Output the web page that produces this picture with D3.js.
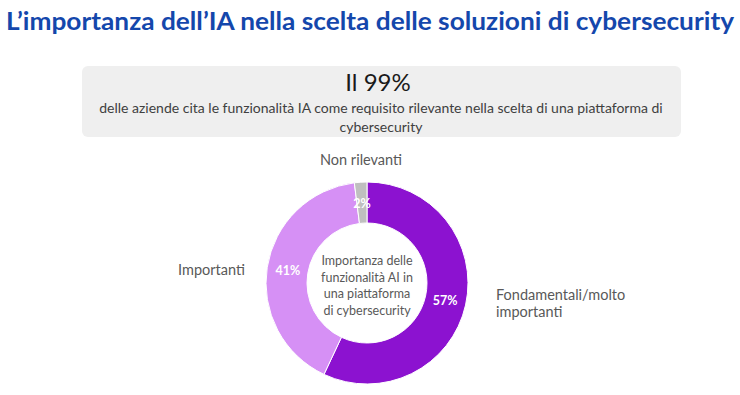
<!DOCTYPE html>
<html>
<head>
<meta charset="utf-8">
<script src="https://cdn.jsdelivr.net/npm/d3@7"></script>
<style>
  body { margin: 0; background: #fff; }
  svg { display: block; font-family: Lato, "Open Sans", sans-serif; }
</style>
</head>
<body>
<div id="chart"></div>
<script>
// Dati del grafico
const categories = ["Fondamentali/molto importanti", "Importanti", "Non rilevanti"];
const values = [57, 41, 2];
const colors = ["#8c12d0", "#d690f5", "#bfbfbf"];
const outerLabels = [["Fondamentali/molto", "importanti"], ["Importanti"], ["Non rilevanti"]];
const centerLines = ["Importanza delle", "funzionalità AI in", "una piattaforma", "di cybersecurity"];

const width = 740, height = 395;
const cx = 367, cy = 283;
const outerR = 101, innerR = 60;

const svg = d3.select("#chart")
    .append("svg")
    .attr("width", width)
    .attr("height", height);

// Titolo
svg.append("text")
    .attr("x", 6)
    .attr("y", 30)
    .attr("textLength", 728)
    .attr("lengthAdjust", "spacingAndGlyphs")
    .attr("font-size", 25)
    .attr("font-weight", "bold")
    .attr("fill", "#1447ac")
    .text("L’importanza dell’IA nella scelta delle soluzioni di cybersecurity");

// Riquadro grigio con il 99%
svg.append("rect")
    .attr("x", 82)
    .attr("y", 66)
    .attr("width", 599)
    .attr("height", 71)
    .attr("rx", 6)
    .attr("fill", "#efefef");

svg.append("text")
    .attr("x", 378)
    .attr("y", 91)
    .attr("text-anchor", "middle")
    .attr("font-size", 24)
    .attr("fill", "#1a1a1a")
    .text("Il 99%");

const boxLines = ["delle aziende cita le funzionalità IA come requisito rilevante nella scelta di una piattaforma di", "cybersecurity"];
svg.selectAll(".sub")
    .data(boxLines)
    .enter()
    .append("text")
    .attr("class", "sub")
    .attr("x", 381)
    .attr("y", (d, i) => 113 + i * 19)
    .attr("text-anchor", "middle")
    .attr("font-size", 14)
    .attr("fill", "#404040")
    .text(d => d);

// Ciambella
const data = categories.map((c, i) => ({ name: c, value: values[i], color: colors[i], label: outerLabels[i] }));
const pie = d3.pie().sort(null).value(d => d.value);
const arc = d3.arc().innerRadius(innerR).outerRadius(outerR);
const labelArc = d3.arc().innerRadius(80).outerRadius(80);

const g = svg.append("g").attr("transform", `translate(${cx},${cy})`);
const arcs = pie(data);

g.selectAll(".arc")
    .data(arcs)
    .enter()
    .append("path")
    .attr("class", "arc")
    .attr("d", arc)
    .attr("fill", d => d.data.color)
    .attr("stroke", "#fff")
    .attr("stroke-width", 1);

g.selectAll(".pct")
    .data(arcs)
    .enter()
    .append("text")
    .attr("class", "pct")
    .attr("transform", d => `translate(${labelArc.centroid(d)})`)
    .attr("dy", "0.35em")
    .attr("text-anchor", "middle")
    .attr("font-size", 12.5)
    .attr("font-weight", "bold")
    .attr("fill", "#fff")
    .text(d => d.data.value + "%");

// Etichette esterne
const outerPos = [
    { x: 496, y: 300, anchor: "start" },
    { x: 178, y: 275, anchor: "start" },
    { x: 361, y: 165, anchor: "middle" }
];
arcs.forEach((d, i) => {
    const p = outerPos[i];
    const t = svg.append("text")
        .attr("x", p.x)
        .attr("y", p.y)
        .attr("text-anchor", p.anchor)
        .attr("font-size", 14.5)
        .attr("fill", "#595959");
    d.data.label.forEach((line, j) => {
        t.append("tspan").attr("x", p.x).attr("dy", j === 0 ? 0 : 17).text(line);
    });
});

// Testo centrale
svg.selectAll(".center")
    .data(centerLines)
    .enter()
    .append("text")
    .attr("class", "center")
    .attr("x", cx)
    .attr("y", (d, i) => 265 + i * 16.5)
    .attr("text-anchor", "middle")
    .attr("font-size", 12.5)
    .attr("fill", "#595959")
    .text(d => d);
</script>
</body>
</html>
